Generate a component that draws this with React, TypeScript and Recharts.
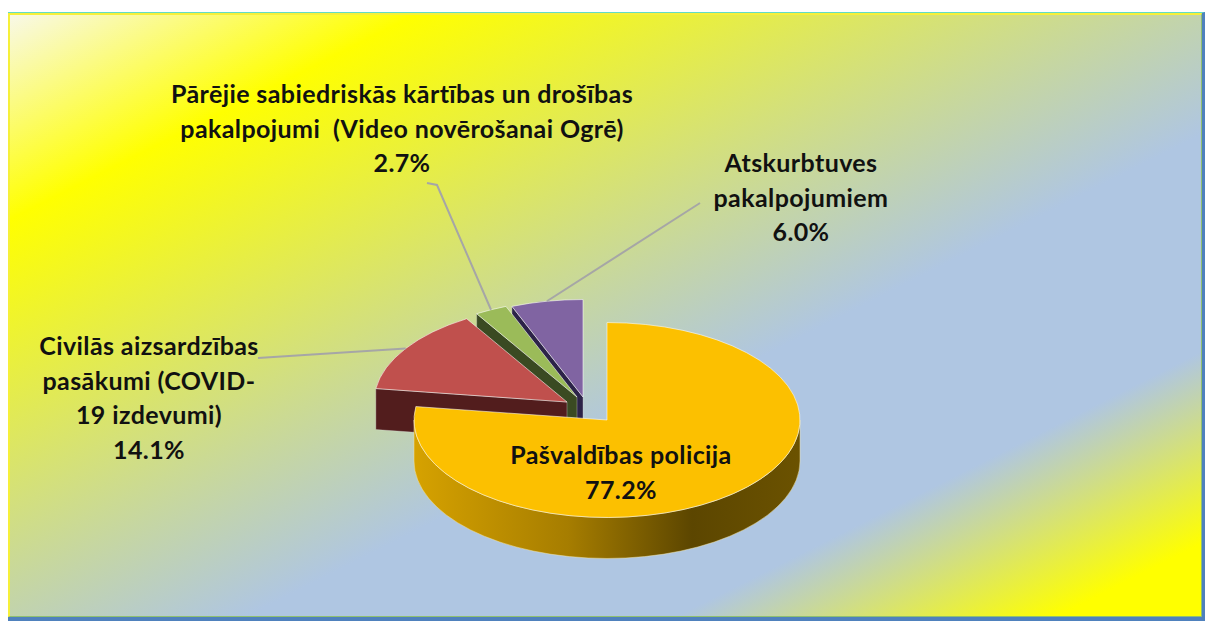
import { PieChart, Pie } from 'recharts';

const categories = [
  'Atskurbtuves pakalpojumiem',
  'Pārējie sabiedriskās kārtības un drošības pakalpojumi (Video novērošanai Ogrē)',
  'Civilās aizsardzības pasākumi (COVID-19 izdevumi)',
  'Pašvaldības policija',
];
const shares = [6.0, 2.7, 14.1, 77.2];
const labelRows = [
  ['Atskurbtuves', 'pakalpojumiem'],
  ['Pārējie sabiedriskās kārtības un drošības', 'pakalpojumi  (Video novērošanai Ogrē)'],
  ['Civilās aizsardzības', 'pasākumi (COVID-', '19 izdevumi)'],
  ['Pašvaldības policija'],
];

const topColors = ['#8064a2', '#9bbb59', '#c0504d', '#fcc000'];
const sideColors = ['#2c2348', '#3a4a22', '#521d1d', 'url(#mainWall)'];

// the "exploded" slices are shifted away from the main one
const sliceOffsets = [[-24, -23], [-30, -23], [-40, -18], [0, 0]];
const labelAnchors = [[801, 172], [402, 103], [149, 355], [621, 464]];
const leaderStarts = [[[700, 203]], [[427, 183], [437, 185]], [[258, 358]], []];

const data = categories.map((name, i) => ({ name, value: shares[i] }));

const WIDTH = 1205;
const HEIGHT = 621;
const FLATTEN = 0.505;
const DEPTH = 41;
const LINE_HEIGHT = 34.5;

const rad = (deg: number) => (deg * Math.PI) / 180;

function Slice(props: any) {
  const { cx, cy, outerRadius, startAngle, endAngle, name } = props;
  const i = categories.indexOf(name);
  const x0 = cx + sliceOffsets[i][0];
  const y0 = cy + sliceOffsets[i][1];
  const rx = outerRadius;
  const ry = outerRadius * FLATTEN;
  const pt = (a: number, dy = 0) => [x0 + rx * Math.cos(rad(a)), y0 - ry * Math.sin(rad(a)) + dy];
  const arc = (from: number, to: number, dy = 0, sweep = 0) => {
    const [x, y] = pt(to, dy);
    return `A${rx} ${ry} 0 ${Math.abs(to - from) > 180 ? 1 : 0} ${sweep} ${x} ${y}`;
  };
  const [sx, sy] = pt(startAngle);
  const [ex, ey] = pt(endAngle);

  const top = `M${x0} ${y0}L${sx} ${sy}${arc(startAngle, endAngle)}Z`;
  const face = `M${x0} ${y0}L${ex} ${ey}L${ex} ${ey + DEPTH}L${x0} ${y0 + DEPTH}Z`;

  // only the front half of the rim can be seen
  const from = Math.max(startAngle, 180);
  const to = Math.min(endAngle, 360);
  let wall = '';
  if (to > from) {
    const [ax, ay] = pt(from);
    const [bx, by] = pt(to);
    wall = `M${ax} ${ay}${arc(from, to)}L${bx} ${by + DEPTH}${arc(to, from, DEPTH, 1)}Z`;
  }

  return (
    <g>
      {i < 3 && <path d={face} fill={sideColors[i]} stroke="#d9d9d9" strokeOpacity={0.35} />}
      {wall && <path d={wall} fill={sideColors[i]} stroke="#f4e6a8" strokeOpacity={0.5} />}
      <path d={top} fill={topColors[i]} stroke="#ffffff" strokeOpacity={0.55} />
    </g>
  );
}

function SliceLabel(props: any) {
  const { cx, cy, outerRadius, midAngle, index, value } = props;
  const [ax, ay] = labelAnchors[index];
  const rows = [...labelRows[index], `${Number(value).toFixed(1)}%`];
  const ox = cx + sliceOffsets[index][0];
  const oy = cy + sliceOffsets[index][1];
  const hit = [
    ox + outerRadius * Math.cos(rad(midAngle)),
    oy - outerRadius * FLATTEN * Math.sin(rad(midAngle)),
  ];
  const leader = leaderStarts[index];
  return (
    <g>
      {leader.length > 0 && (
        <polyline
          points={[...leader, hit].map((p) => p.join(',')).join(' ')}
          fill="none"
          stroke="#a6a6a6"
          strokeWidth={2}
        />
      )}
      {rows.map((row, r) => (
        <text
          key={r}
          x={ax}
          y={ay + r * LINE_HEIGHT}
          textAnchor="middle"
          fontFamily="Lato, sans-serif"
          fontWeight={700}
          fontSize={25}
          letterSpacing={0.4}
          fill="#111111"
          style={{ whiteSpace: 'pre' }}
        >
          {row}
        </text>
      ))}
    </g>
  );
}

export default function App() {
  return (
    <div style={{ position: 'absolute', left: 0, top: 0, width: WIDTH, height: HEIGHT, background: '#fff', overflow: 'hidden' }}>
      <div
        style={{
          position: 'absolute',
          left: 8,
          top: 12,
          right: 0,
          bottom: 0,
          boxSizing: 'border-box',
          borderTop: '1px solid #62dcc5',
          borderRight: '3px solid #4f81bd',
          borderBottom: '4px solid #4f81bd',
        }}
      >
        <div
          style={{
            boxSizing: 'border-box',
            width: '100%',
            height: '100%',
            borderLeft: '2px solid #f6f03a',
            borderTop: '2px solid #f6f03a',
            borderRight: '1px solid #8fbf70',
            borderBottom: '1px solid #8fbf70',
            background:
              'linear-gradient(to bottom right, #f8f8e8 0%, #ffff00 17%, #afc6e2 60%, #afc6e2 78%, #ffff00 94%, #ffff00 100%)',
          }}
        />
      </div>
      <div style={{ position: 'absolute', left: 0, top: 0 }}>
        <PieChart width={WIDTH} height={HEIGHT} margin={{ top: 0, right: 0, bottom: 0, left: 0 }}>
          <defs>
            <linearGradient id="mainWall" x1="0" y1="0" x2="1" y2="0">
              <stop offset="0%" stopColor="#d6a200" />
              <stop offset="40%" stopColor="#a67d00" />
              <stop offset="72%" stopColor="#5c4600" />
              <stop offset="100%" stopColor="#6b5200" />
            </linearGradient>
          </defs>
          <Pie
            data={data}
            dataKey="value"
            nameKey="name"
            cx={607}
            cy={420}
            outerRadius={193}
            startAngle={90}
            endAngle={450}
            paddingAngle={0}
            shape={Slice}
            label={SliceLabel}
            labelLine={false}
            isAnimationActive={false}
          />
        </PieChart>
      </div>
    </div>
  );
}
